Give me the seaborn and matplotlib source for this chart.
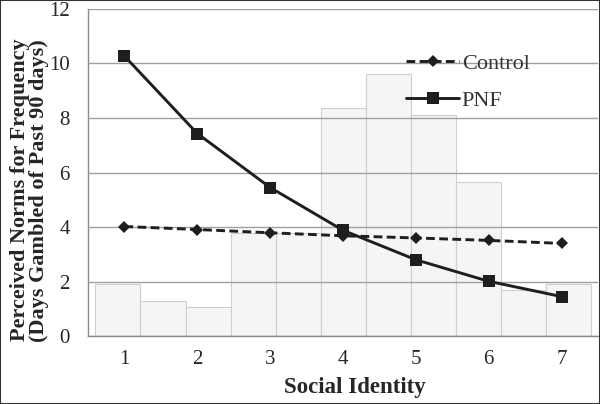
import numpy as np
import pandas as pd
import seaborn as sns
import matplotlib.pyplot as plt

# Data
social_identity = [1, 2, 3, 4, 5, 6, 7]
control = [4.02, 3.91, 3.79, 3.68, 3.60, 3.51, 3.40]
pnf = [10.27, 7.43, 5.45, 3.88, 2.80, 2.01, 1.45]

# background distribution (histogram bars)
bin_edges = np.linspace(0.6, 7.41, 12)
bin_heights = [1.90, 1.28, 1.07, 3.80, 3.80, 8.35, 9.60, 8.12, 5.65, 1.68, 1.90]

sns.set_style('white')
plt.rcParams['font.family'] = ['Liberation Serif', 'DejaVu Serif']

df = pd.DataFrame({'Social Identity': social_identity * 2,
                   'Norm': control + pnf,
                   'Group': ['Control'] * 7 + ['PNF'] * 7})

fig = plt.figure(figsize=(6, 4.04), dpi=100)
ax = fig.add_axes([0.1467, 0.168, 0.85, 0.81])

# histogram bars behind, grid drawn over them
ax.bar(bin_edges[:-1], bin_heights, width=np.diff(bin_edges), align='edge',
       color='#f5f5f5', edgecolor='#cfcfcf', linewidth=0.8, zorder=1)

sns.lineplot(data=df, x='Social Identity', y='Norm', hue='Group', style='Group',
             palette={'Control': '#1e1e1e', 'PNF': '#1e1e1e'},
             markers={'Control': 'D', 'PNF': 's'},
             dashes={'Control': (3, 1.5), 'PNF': ''},
             linewidth=2.1, markeredgewidth=0,
             ax=ax, zorder=3)
for ln in ax.get_lines():
    if ln.get_marker() == 'D':
        ln.set_markersize(6.5)
    elif ln.get_marker() == 's':
        ln.set_markersize(9)

ax.set_xlim(0.5, 7.5)
ax.set_ylim(0, 12)
ax.set_xticks(social_identity)
ax.set_yticks(range(0, 13, 2))
ax.yaxis.grid(True, color='#a0a0a0', linewidth=1.0)
ax.set_axisbelow(False)
for gl in ax.get_ygridlines():
    gl.set_zorder(2)
ax.tick_params(axis='both', labelsize=15, length=0)
ax.tick_params(axis='x', pad=10)
ax.tick_params(axis='y', pad=13)

for side in ['top', 'right']:
    ax.spines[side].set_visible(False)
for side in ['left', 'bottom']:
    ax.spines[side].set_color('#8a8a8a')
    ax.spines[side].set_linewidth(1.0)
    ax.spines[side].set_zorder(2)

ax.set_xlabel('Social Identity', fontsize=16.5, fontweight='bold')
ax.xaxis.set_label_coords(0.524, -0.125)
ax.set_ylabel('Perceived Norms for Frequency\n(Days Gambled of Past 90 days)',
              fontsize=16, fontweight='bold', linespacing=0.95)
ax.yaxis.set_label_coords(-0.076, 0.446)

leg = ax.legend(loc='upper right', bbox_to_anchor=(0.905, 0.925), frameon=False,
                fontsize=16, handlelength=2.4, handletextpad=0.1,
                labelspacing=0.75, title=None)
for t in leg.get_texts():
    t.set_color('#333333')

# thin frame around the whole picture
fig.patches.append(plt.Rectangle((0, 0), 1, 1, transform=fig.transFigure,
                                 fill=False, edgecolor='#333333', linewidth=1.5))

fig.savefig('out.png', dpi=100)
